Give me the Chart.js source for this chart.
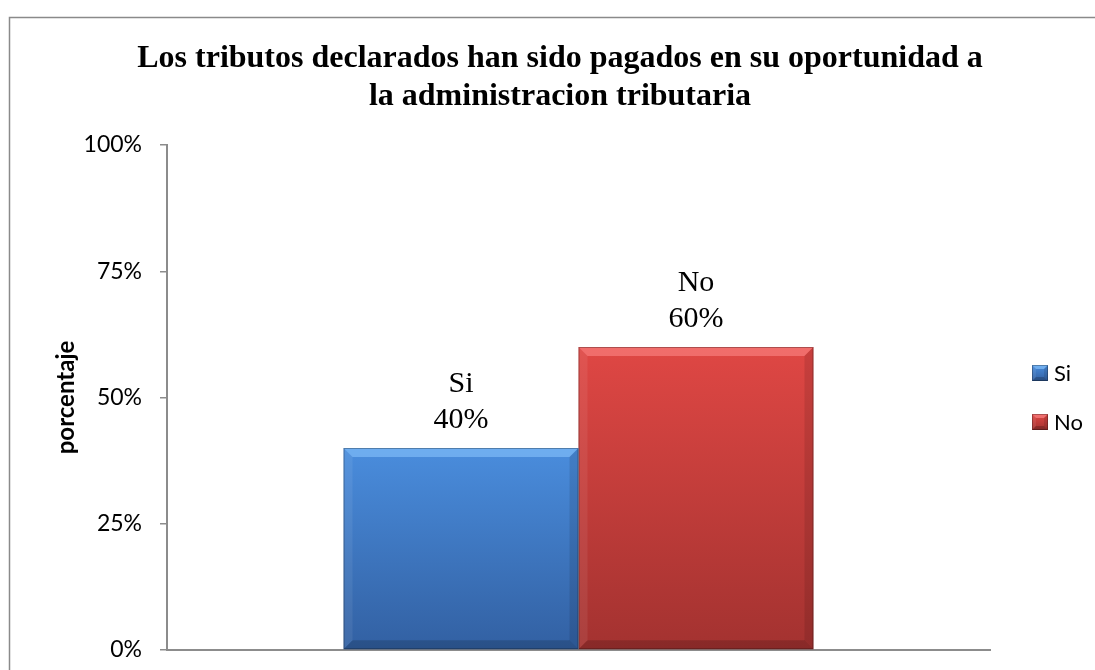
<!DOCTYPE html>
<html>
<head>
<meta charset="utf-8">
<script src="https://cdn.jsdelivr.net/npm/chart.js@4.4.1/dist/chart.umd.min.js"></script>
<style>
  html, body { margin: 0; padding: 0; background: #ffffff; }
  #wrap { position: relative; width: 1095px; height: 670px; }
</style>
</head>
<body>
<div id="wrap"><canvas id="c" width="1095" height="670"></canvas></div>
<script>
// ---- data ----
const categories = [''];
const seriesNames = ['Si', 'No'];
const siValues = [40];
const noValues = [60];
const yTickValues = [0, 25, 50, 75, 100];
const yTickLabels = ['0%', '25%', '50%', '75%', '100%'];
const titleLines = ['Los tributos declarados han sido pagados en su oportunidad a', 'la administracion tributaria'];
const yAxisTitle = 'porcentaje';

// ---- styles ----
const topColors = ['#4a8ddd', '#df4744'];
const bottomColors = ['#3260a2', '#a33230'];
const axisColor = '#8c8c8c';

function barGradient(ctx, idx) {
  const chart = ctx.chart;
  const y = chart.scales.y;
  if (!y || !chart.chartArea) return topColors[idx];
  const top = y.getPixelForValue(ctx.raw);
  const bottom = y.getPixelForValue(0);
  const g = chart.ctx.createLinearGradient(0, top, 0, bottom);
  g.addColorStop(0, topColors[idx]);
  g.addColorStop(1, bottomColors[idx]);
  return g;
}

function bevel(c, l, t, r, b, s, light, dark) {
  c.save();
  c.beginPath(); c.moveTo(l, t); c.lineTo(r, t); c.lineTo(r - s, t + s); c.lineTo(l + s, t + s); c.closePath();
  c.fillStyle = light; c.fill();
  c.beginPath(); c.moveTo(l, t); c.lineTo(l + s, t + s); c.lineTo(l + s, b - s); c.lineTo(l, b); c.closePath();
  c.fillStyle = 'rgba(255,255,255,0.07)'; c.fill();
  c.beginPath(); c.moveTo(r, t); c.lineTo(r - s, t + s); c.lineTo(r - s, b - s); c.lineTo(r, b); c.closePath();
  c.fillStyle = 'rgba(0,0,0,0.10)'; c.fill();
  c.beginPath(); c.moveTo(l, b); c.lineTo(r, b); c.lineTo(r - s, b - s); c.lineTo(l + s, b - s); c.closePath();
  c.fillStyle = dark; c.fill();
  c.strokeStyle = 'rgba(0,0,0,0.28)'; c.lineWidth = 1;
  c.strokeRect(l + 0.5, t + 0.5, r - l - 1, b - t - 1);
  c.restore();
}

const framePlugin = {
  id: 'frame',
  beforeDraw(chart) {
    const c = chart.ctx;
    c.save();
    c.strokeStyle = '#8a8a8a';
    c.lineWidth = 1.5;
    c.beginPath();
    c.moveTo(9.5, 700); c.lineTo(9.5, 17.5); c.lineTo(1200, 17.5);
    c.stroke();
    c.fillStyle = '#000';
    c.font = 'bold 32px "Liberation Serif", "Times New Roman", serif';
    c.textAlign = 'center';
    c.textBaseline = 'alphabetic';
    titleLines.forEach((line, i) => c.fillText(line, 560, 67 + i * 38));
    c.restore();
  }
};

const barExtrasPlugin = {
  id: 'barExtras',
  afterDatasetsDraw(chart) {
    const c = chart.ctx;
    chart.data.datasets.forEach((ds, di) => {
      const meta = chart.getDatasetMeta(di);
      meta.data.forEach((el, i) => {
        const l = el.x - el.width / 2, r = el.x + el.width / 2;
        const t = el.y, b = el.base;
        bevel(c, l, t, r, b, 9,
          di === 0 ? 'rgba(140,200,255,0.55)' : 'rgba(255,140,140,0.55)',
          'rgba(0,0,0,0.16)');
        c.save();
        c.fillStyle = '#000';
        c.font = '30px "Liberation Serif", "Times New Roman", serif';
        c.textAlign = 'center';
        c.textBaseline = 'alphabetic';
        c.fillText(ds.label, el.x, t - 20 - 36);
        c.fillText(ds.data[i] + '%', el.x, t - 20);
        c.restore();
      });
    });
    chart.data.datasets.forEach((ds, di) => {
      const cy = 373 + di * 49;
      const x = 1032, s = 16;
      const g = c.createLinearGradient(0, cy - s / 2, 0, cy + s / 2);
      g.addColorStop(0, topColors[di]);
      g.addColorStop(1, bottomColors[di]);
      c.save();
      c.fillStyle = g;
      c.fillRect(x, cy - s / 2, s, s);
      c.restore();
      bevel(c, x, cy - s / 2, x + s, cy + s / 2, 4,
        di === 0 ? 'rgba(140,200,255,0.6)' : 'rgba(255,140,140,0.6)',
        'rgba(0,0,0,0.2)');
      c.save();
      c.fillStyle = '#000';
      c.font = '22px Lato, "Open Sans", sans-serif';
      c.textAlign = 'left';
      c.textBaseline = 'middle';
      c.fillText(ds.label, x + s + 6, cy + 1);
      c.restore();
    });
  }
};

new Chart(document.getElementById('c'), {
  type: 'bar',
  data: {
    labels: categories,
    datasets: [
      { label: seriesNames[0], data: siValues, backgroundColor: (ctx) => barGradient(ctx, 0), borderWidth: 0 },
      { label: seriesNames[1], data: noValues, backgroundColor: (ctx) => barGradient(ctx, 1), borderWidth: 0 }
    ]
  },
  options: {
    responsive: false,
    animation: false,
    events: [],
    layout: { padding: { top: 145, right: 105, bottom: 20, left: 0 } },
    datasets: { bar: { categoryPercentage: 0.571, barPercentage: 1.0 } },
    plugins: {
      legend: { display: false },
      title: { display: false },
      tooltip: { enabled: false }
    },
    scales: {
      x: {
        grid: { display: false, drawTicks: false },
        ticks: { display: false },
        border: { display: true, color: axisColor, width: 2 },
        afterFit(scale) { scale.height = 0; }
      },
      y: {
        min: 0, max: 100,
        afterBuildTicks(scale) { scale.ticks = yTickValues.map(v => ({ value: v })); },
        ticks: {
          callback: (v, i) => yTickLabels[i],
          color: '#000',
          padding: 18,
          font: { family: 'Lato, "Open Sans", sans-serif', size: 23 }
        },
        grid: { drawOnChartArea: false, drawTicks: true, tickLength: 7, color: axisColor, lineWidth: 1.5 },
        border: { display: true, color: axisColor, width: 2 },
        title: {
          display: true, text: yAxisTitle, color: '#000',
          font: { family: 'Lato, "Open Sans", sans-serif', size: 24, weight: 'bold' },
          padding: { top: 52, bottom: 0 }
        },
        afterFit(scale) {
          scale.width = 167;
          scale.paddingTop = 0;
          scale.paddingBottom = 0;
        }
      }
    }
  },
  plugins: [framePlugin, barExtrasPlugin]
});
</script>
</body>
</html>
